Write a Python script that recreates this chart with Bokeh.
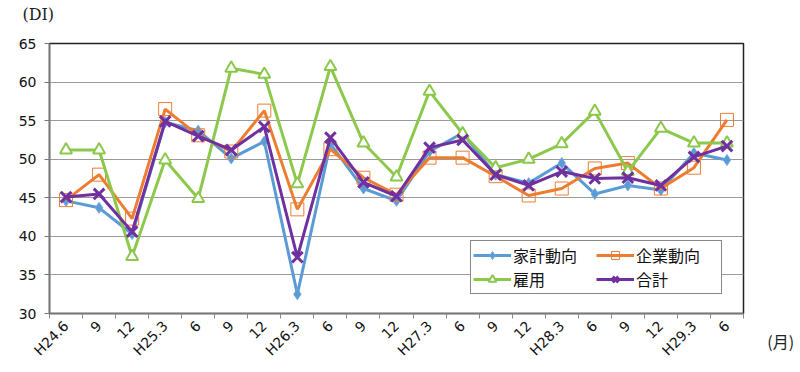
import math
from bokeh.plotting import figure
from bokeh.models import FixedTicker, Legend, LegendItem, Label, Range1d
from bokeh.embed import file_html
from bokeh.resources import INLINE

# ---- data ----
periods = ["H24.6", "9", "12", "H25.3", "6", "9", "12", "H26.3", "6", "9", "12",
           "H27.3", "6", "9", "12", "H28.3", "6", "9", "12", "H29.3", "6"]
kakei = [44.6, 43.7, 40.3, 54.8, 53.7, 50.1, 52.3, 32.5, 52.0, 46.2, 44.6,
         51.0, 53.4, 48.0, 46.9, 49.5, 45.5, 46.6, 46.0, 50.8, 49.9]
kigyo = [44.7, 48.0, 42.3, 56.5, 53.1, 51.0, 56.3, 43.5, 51.3, 47.6, 45.4,
         50.2, 50.2, 47.8, 45.3, 46.2, 48.8, 49.5, 46.2, 48.9, 55.1]
koyo = [51.2, 51.2, 37.4, 49.9, 44.9, 61.8, 61.0, 46.8, 62.0, 52.1, 47.7,
        58.8, 53.3, 48.9, 50.0, 52.0, 56.2, 48.4, 54.0, 52.1, 52.1]
gokei = [45.1, 45.5, 40.6, 54.9, 53.0, 51.2, 54.2, 37.3, 52.8, 47.0, 45.2,
         51.5, 52.5, 48.0, 46.6, 48.4, 47.5, 47.6, 46.6, 50.3, 51.7]
series_names = ["家計動向", "企業動向", "雇用", "合計"]
y_ticks = [30, 35, 40, 45, 50, 55, 60, 65]

xs = [i + 0.5 for i in range(len(periods))]

p = figure(width=800, height=372, output_backend="svg", toolbar_location=None,
           x_range=Range1d(0, len(periods)), y_range=Range1d(30, 65),
           min_border_left=49, min_border_right=57, min_border_top=43,
           min_border_bottom=59)
p.background_fill_color = "white"
p.border_fill_color = "white"
p.outline_line_color = "#222222"
p.outline_line_width = 1.5

# axes
font = "DejaVu Sans"
p.xaxis.ticker = FixedTicker(ticks=xs, minor_ticks=list(range(len(periods) + 1)))
p.xaxis.major_label_overrides = {x: lab for x, lab in zip(xs, periods)}
p.xaxis.major_label_orientation = math.pi / 4
p.xaxis.major_tick_out = 0
p.xaxis.major_tick_in = 0
p.xaxis.minor_tick_out = 5
p.xaxis.minor_tick_in = 0
p.xaxis.minor_tick_line_color = "#888888"
p.xaxis.axis_line_color = "#777777"
p.xaxis.axis_line_width = 1.5
p.xaxis.major_label_text_font = font
p.xaxis.major_label_text_font_size = "14px"
p.xaxis.major_label_text_color = "#111111"
p.xaxis.major_label_standoff = 5

p.yaxis.ticker = FixedTicker(ticks=y_ticks)
p.yaxis.major_tick_out = 5
p.yaxis.major_tick_in = 0
p.yaxis.minor_tick_line_color = None
p.yaxis.axis_line_color = "#777777"
p.yaxis.axis_line_width = 1.5
p.yaxis.major_tick_line_color = "#777777"
p.yaxis.major_label_text_font = font
p.yaxis.major_label_text_font_size = "14px"
p.yaxis.major_label_text_color = "#111111"
p.yaxis.major_label_standoff = 8

p.xgrid.grid_line_color = None
p.ygrid.grid_line_color = "#9a9a9a"
p.ygrid.grid_line_width = 1.2

# series
c_blue, c_orange, c_green, c_purple = "#5B9BD5", "#ED7D31", "#8CC84B", "#7030A0"

l1 = p.line(xs, kakei, line_color=c_blue, line_width=3)
m1 = p.scatter(xs, kakei, marker="diamond", size=11, fill_color=c_blue,
               line_color="#6fa8dc", line_width=1)
l2 = p.line(xs, kigyo, line_color=c_orange, line_width=3)
m2 = p.scatter(xs, kigyo, marker="square", size=13, fill_color=None,
               line_color=c_orange, line_width=1)
l3 = p.line(xs, koyo, line_color=c_green, line_width=3)
m3 = p.scatter(xs, koyo, marker="triangle", size=12, fill_color="white",
               line_color=c_green, line_width=2)
l4 = p.line(xs, gokei, line_color=c_purple, line_width=3)
m4 = p.scatter(xs, gokei, marker="x", size=15, line_color=c_purple, line_width=3)

legend = Legend(items=[
    LegendItem(label=series_names[0], renderers=[l1, m1]),
    LegendItem(label=series_names[1], renderers=[l2, m2]),
    LegendItem(label=series_names[2], renderers=[l3, m3]),
    LegendItem(label=series_names[3], renderers=[l4, m4]),
], location=(421, 19), orientation="horizontal", ncols=2)
legend.label_text_font = "Noto Sans CJK JP"
legend.label_text_font_size = "16px"
legend.label_text_color = "#111111"
legend.glyph_width = 38
legend.glyph_height = 20
legend.label_height = 20
legend.label_width = 83
legend.label_standoff = 2
legend.padding = 2
legend.spacing = 0
legend.margin = 0
legend.border_line_color = "#111111"
legend.border_line_width = 1.5
legend.background_fill_alpha = 1
p.add_layout(legend, "center")

p.add_layout(Label(x=-0.82, y=68.8, text="(DI)", text_font="DejaVu Serif",
                   text_font_size="16px", text_baseline="middle",
                   text_color="#222222"), "above")
p.add_layout(Label(x=21.72, y=26.43, text="(月)", text_font="Noto Sans CJK JP",
                   text_font_size="16px", text_baseline="middle",
                   text_color="#222222"), "right")

open("out.html", "w").write(file_html(p, INLINE))
